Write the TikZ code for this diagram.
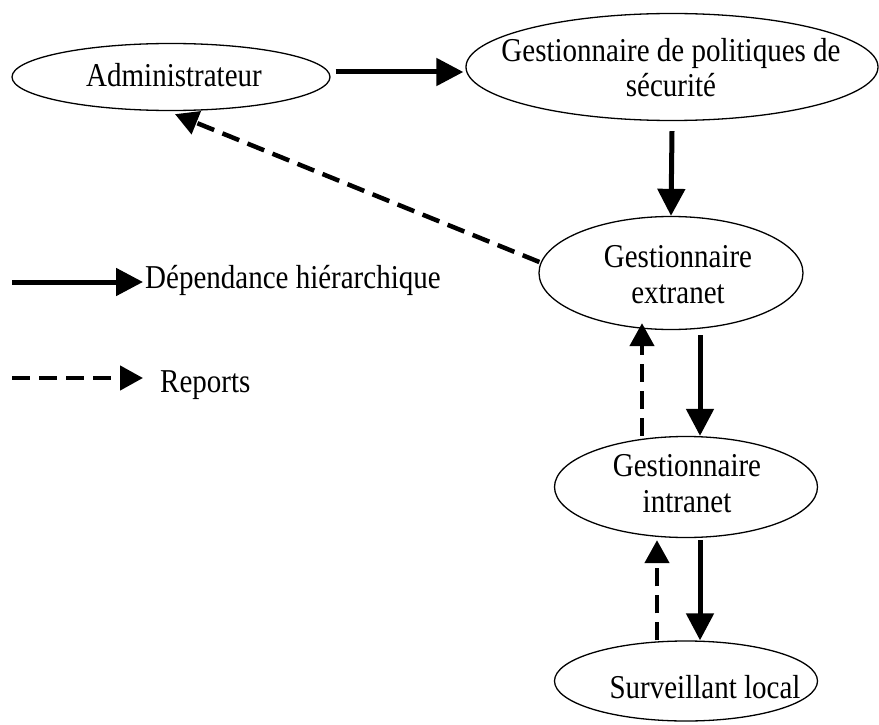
\documentclass[tikz,border=0pt]{standalone}
\usepackage{fontspec}
\setmainfont{Liberation Serif}
\usetikzlibrary{shapes.geometric,arrows.meta}
% text lines, slightly stretched vertically, bottom row on the baseline
\newcommand{\lbl}[1]{\scalebox{1}[1.15]{\begin{tabular}[b]{@{}c@{}}#1\end{tabular}}}
\begin{document}
\begin{tikzpicture}[x=1pt,y=-1pt,
  role/.style={ellipse,draw,line width=1.3pt,inner sep=0pt},
  txt/.style={inner sep=0pt,anchor=base,font=\fontsize{29}{30.5}\selectfont},
  dep/.style={line width=5pt,-{Triangle[length=27pt,width=27pt]}},
  rep/.style={line width=4.5pt,dash pattern=on 18pt off 9pt,-{Triangle[length=23pt,width=24pt]}}]
\useasboundingbox (0,0) rectangle (879,725);

% roles
\node[role,minimum width=318pt,minimum height=67pt] (adm) at (171,77) {};
\node[txt] (admt) at (174,87) {\lbl{Administrateur}};

\node[role,minimum width=412pt,minimum height=107pt] (gp) at (672,67) {};
\node[txt] (gpt) at (671,97) {\lbl{Gestionnaire de politiques de\\sécurité}};

\node[role,minimum width=264pt,minimum height=113pt] (ext) at (671,273) {};
\node[txt] (extt) at (678,303) {\lbl{Gestionnaire\\extranet}};

\node[role,minimum width=263pt,minimum height=101pt] (intra) at (686,487) {};
\node[txt] (intrat) at (687,512) {\lbl{Gestionnaire\\intranet}};

\node[role,minimum width=263pt,minimum height=80pt] (surv) at (686,681) {};
\node[txt] (survt) at (705,698) {\lbl{Surveillant local}};

% hierarchy
\draw[dep] ([xshift=5pt,yshift=5pt]adm.east) -- ([xshift=-2pt,yshift=-5pt]gp.west);
\draw[dep] ([yshift=-10pt]gp.south) -- (ext.north);
\draw[dep] ([xshift=29pt,yshift=-5pt]ext.south) -- ([xshift=14pt]intra.north);
\draw[dep] ([xshift=14pt,yshift=-2pt]intra.south) -- ([xshift=14pt]surv.north);

% reports
\draw[rep] ([xshift=1pt,yshift=11pt]ext.west) -- ([xshift=4pt,yshift=-3pt]adm.south);
\draw[rep] ([xshift=-44pt]intra.north) -- ([xshift=-29pt,yshift=7pt]ext.south);
\draw[rep] ([xshift=-29pt]surv.north) -- ([xshift=-29pt,yshift=-2pt]intra.south);

% legend
\coordinate (l1a) at (12,282);
\coordinate (l1b) at (143,282);
\draw[dep] (l1a) -- (l1b);
\node[txt,anchor=base west] (l1t) at (145,288) {\lbl{Dépendance hiérarchique}};
\coordinate (l2a) at (12,378);
\coordinate (l2b) at (143,378);
\draw[rep] (l2a) -- (l2b);
\node[txt,anchor=base west] (l2t) at (160,392) {\lbl{Reports}};
\end{tikzpicture}
\end{document}
